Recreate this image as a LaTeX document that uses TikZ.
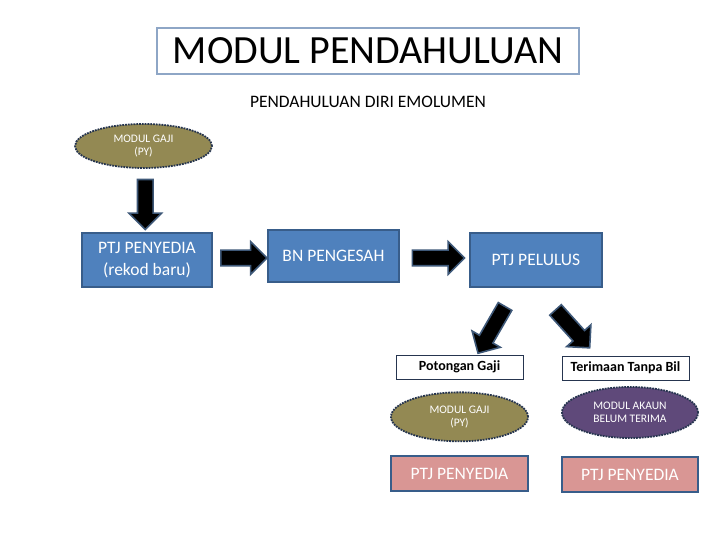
\documentclass[tikz,border=0pt]{standalone}
\usepackage{fontspec}
\setmainfont{Carlito}
\usepackage{tikz}
\usetikzlibrary{shapes.geometric, shapes.arrows, positioning, calc}
\definecolor{boxblue}{HTML}{4F81BD}
\definecolor{boxedge}{HTML}{385D8A}
\definecolor{gajiolive}{HTML}{938953}
\definecolor{akaunplum}{HTML}{5F497A}
\definecolor{copyrose}{HTML}{D99694}
\definecolor{navyedge}{HTML}{26354F}
\definecolor{titleedge}{HTML}{8EA6C6}
\definecolor{arrowedge}{HTML}{3E5878}

\begin{document}
\begin{tikzpicture}[x=1pt, y=1pt]
  \tikzstyle{titlebox} = [rectangle, draw=titleedge, line width=2pt, fill=white, minimum width=422pt, minimum height=46pt, font=\fontsize{40}{44}\selectfont]
  \tikzstyle{stage} = [rectangle, draw=boxedge, line width=1.5pt, fill=boxblue, text=white, align=center, font=\fontsize{17.5}{21.5}\selectfont]
  \tikzstyle{module} = [ellipse, draw=navyedge, line width=1.8pt, densely dotted, inner sep=0pt, text=white, align=center, font=\fontsize{11.5}{13}\selectfont]
  \tikzstyle{tag} = [rectangle, draw=navyedge, line width=0.9pt, fill=white, minimum width=127pt, minimum height=24pt, font=\bfseries\fontsize{14}{16}\selectfont]
  \tikzstyle{copybox} = [rectangle, draw=boxedge, line width=2pt, fill=copyrose, text=white, minimum width=137pt, minimum height=35pt, font=\fontsize{17.5}{21}\selectfont]
  \tikzstyle{blockarrow} = [single arrow, draw=arrowedge, line width=1.6pt, fill=black, inner sep=0pt, single arrow head extend=8.5pt, minimum width=31pt]

  \useasboundingbox (0,0) rectangle (720,540);

  \node [titlebox] (title) at (368,489) {MODUL PENDAHULUAN};
  \node [font=\fontsize{17.5}{20}\selectfont] (subtitle) at (368,438) {PENDAHULUAN DIRI EMOLUMEN};

  \node [module, fill=gajiolive, minimum width=137pt, minimum height=44pt] (gaji) at (143.5,394) {MODUL GAJI\\(PY)};
  \node [stage, minimum width=130pt, minimum height=54pt] (penyedia) at (147,280) {PTJ PENYEDIA\\(rekod baru)};
  \node [stage, minimum width=131pt, minimum height=52pt] (pengesah) at (333.5,284) {BN PENGESAH};
  \node [stage, minimum width=132pt, minimum height=54pt] (pelulus) at (536,280) {PTJ PELULUS};

  \node [tag] (potongan) at (459.5,173) {Potongan Gaji};
  \node [tag] (terimaan) at (625.5,172) {Terimaan Tanpa Bil};

  \node [module, fill=gajiolive, minimum width=137pt, minimum height=49pt, below=12pt of potongan] (gaji2) {MODUL GAJI\\(PY)};
  \node [module, fill=akaunplum, minimum width=136pt, minimum height=51pt] (akaun) at (630,127.5) {MODUL AKAUN\\BELUM TERIMA};

  \node [copybox, below=13pt of gaji2] (penyedia2) {PTJ PENYEDIA};
  \node [copybox, minimum width=136pt] (penyedia3) at (630,65.5) {PTJ PENYEDIA};

  \node [blockarrow, minimum height=50pt, rotate=-90] (down) at ($(gaji.south)!0.5!(penyedia.north)$) {\rule{0pt}{14pt}};
  \node [blockarrow, minimum height=46pt] (right1) at ($(penyedia.east)!0.5!(pengesah.west)$) {\rule{0pt}{14pt}};
  \node [blockarrow, minimum height=52pt] (right2) at ($(pengesah.east)!0.5!(pelulus.west)$) {\rule{0pt}{14pt}};
  \node [blockarrow, minimum height=54pt, rotate=-120] (diagleft) at (493.5,213.5) {\rule{0pt}{14pt}};
  \node [blockarrow, minimum height=51pt, rotate=-48] (diagright) at (570,214) {\rule{0pt}{14pt}};
\end{tikzpicture}
\end{document}
